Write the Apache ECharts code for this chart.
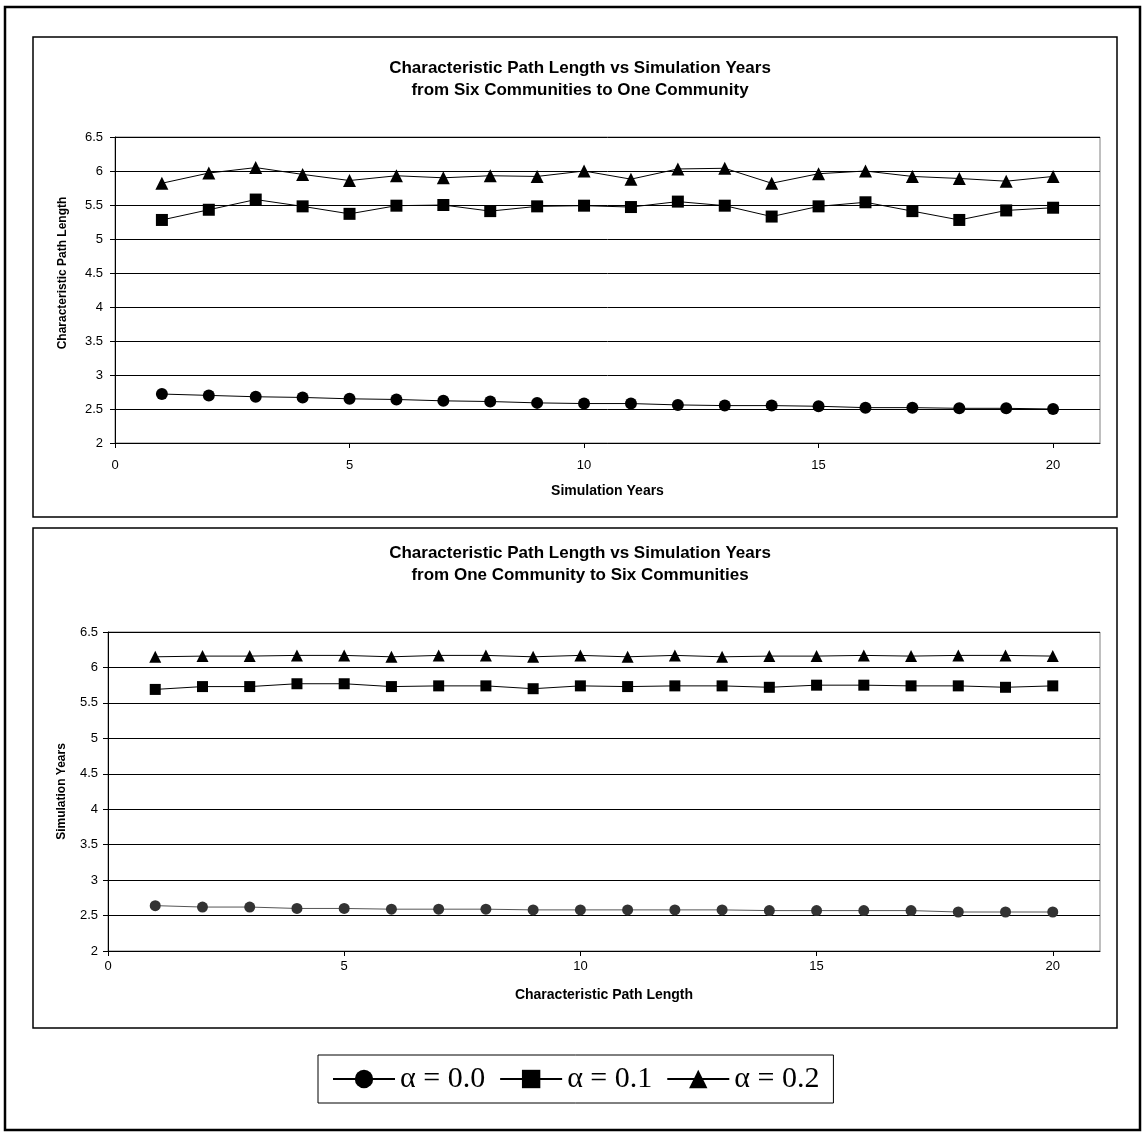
<!DOCTYPE html>
<html><head><meta charset="utf-8">
<script src="https://cdn.jsdelivr.net/npm/echarts@6/dist/echarts.min.js"></script>
<style>html,body{margin:0;padding:0;background:#fff}#c{width:1143px;height:1132px}</style>
</head><body><div id="c"></div>
<script>
const years = [1,2,3,4,5,6,7,8,9,10,11,12,13,14,15,16,17,18,19,20];
const seriesNames = ['α = 0.0', 'α = 0.1', 'α = 0.2'];
const xTicks = [0, 5, 10, 15, 20];
// Top chart: from six communities to one community
const topA0 = [2.72,2.70,2.68,2.67,2.65,2.64,2.62,2.61,2.59,2.58,2.58,2.56,2.55,2.55,2.54,2.52,2.52,2.51,2.51,2.50];
const topA1 = [5.28,5.43,5.58,5.48,5.37,5.49,5.50,5.41,5.48,5.49,5.47,5.55,5.49,5.33,5.48,5.54,5.41,5.28,5.42,5.46];
const topA2 = [5.82,5.97,6.05,5.95,5.86,5.93,5.90,5.93,5.92,6.00,5.88,6.03,6.04,5.82,5.96,6.00,5.92,5.89,5.85,5.92];
// Bottom chart: from one community to six communities
const botA0 = [2.64,2.62,2.62,2.60,2.60,2.59,2.59,2.59,2.58,2.58,2.58,2.58,2.58,2.57,2.57,2.57,2.57,2.55,2.55,2.55];
const botA1 = [5.69,5.73,5.73,5.77,5.77,5.73,5.74,5.74,5.70,5.74,5.73,5.74,5.74,5.72,5.75,5.75,5.74,5.74,5.72,5.74];
const botA2 = [6.15,6.16,6.16,6.17,6.17,6.15,6.17,6.17,6.15,6.17,6.15,6.17,6.15,6.16,6.16,6.17,6.16,6.17,6.17,6.16];

const FONT = 'Liberation Sans, Arial, sans-serif';
const pairs = arr => years.map((x, i) => [x, arr[i]]);

function xAxis(idx, name, gap, labelMargin) {
  return {
    type: 'value', gridIndex: idx, min: 0, max: 21, interval: 5,
    name: name, nameLocation: 'middle', nameGap: gap,
    nameTextStyle: {fontFamily: FONT, fontWeight: 'bold', fontSize: 14, color: '#000'},
    axisLine: {show: true, lineStyle: {color: '#000', width: 1}},
    axisTick: {show: true, length: 5, lineStyle: {color: '#000'}, customValues: xTicks},
    axisLabel: {fontFamily: FONT, fontSize: 13, color: '#000', margin: labelMargin, customValues: xTicks},
    splitLine: {show: false}
  };
}
function yAxis(idx, name, gap, labelMargin, pad) {
  return {
    type: 'value', gridIndex: idx, min: 2, max: 6.5, interval: 0.5,
    name: name, nameLocation: 'middle', nameGap: gap,
    nameTextStyle: {fontFamily: FONT, fontWeight: 'bold', fontSize: 12, color: '#000', padding: pad},
    axisLine: {show: true, lineStyle: {color: '#000', width: 1}},
    axisTick: {show: true, length: 5, lineStyle: {color: '#000'}},
    axisLabel: {fontFamily: FONT, fontSize: 13, color: '#000', margin: labelMargin},
    splitLine: {show: true, lineStyle: {color: '#000', width: 1}}
  };
}
function line(idx, name, arr, symbol, size, color, lineColor) {
  return {
    type: 'line', name: name, xAxisIndex: idx, yAxisIndex: idx,
    data: pairs(arr), symbol: symbol, symbolSize: size, showSymbol: true,
    itemStyle: {color: color, opacity: 1},
    lineStyle: {color: lineColor, width: 1},
    animation: false, silent: true, z: 3
  };
}

const chart = echarts.init(document.getElementById('c'), null, {renderer: 'canvas'});
chart.setOption({
  backgroundColor: '#fff',
  animation: false,
  title: [
    {text: 'Characteristic Path Length vs Simulation Years\nfrom Six Communities to One Community',
     left: 575, top: 52, textAlign: 'center',
     textStyle: {fontFamily: FONT, fontWeight: 'bold', fontSize: 17, lineHeight: 22, color: '#000'}},
    {text: 'Characteristic Path Length vs Simulation Years\nfrom One Community to Six Communities',
     left: 575, top: 537, textAlign: 'center',
     textStyle: {fontFamily: FONT, fontWeight: 'bold', fontSize: 17, lineHeight: 22, color: '#000'}}
  ],
  legend: {
    data: seriesNames, left: 318, top: 1055, orient: 'horizontal',
    padding: [9, 14, 9, 14], itemGap: 14, itemWidth: 62, itemHeight: 23,
    borderColor: '#000', borderWidth: 1, backgroundColor: '#fff',
    textStyle: {fontFamily: 'Liberation Serif, Times New Roman, serif', fontSize: 30, color: '#000'},
    selectedMode: false
  },
  grid: [
    {left: 115, top: 137, width: 985, height: 306, show: true, borderColor: '#808080', borderWidth: 1, backgroundColor: '#fff'},
    {left: 108, top: 632, width: 992, height: 319, show: true, borderColor: '#808080', borderWidth: 1, backgroundColor: '#fff'}
  ],
  xAxis: [xAxis(0, 'Simulation Years', 41, 16), xAxis(1, 'Characteristic Path Length', 37, 9)],
  yAxis: [yAxis(0, 'Characteristic Path Length', 46, 12, [0, 0, 0, 34]), yAxis(1, 'Simulation Years', 40, 10, [0, 0, 0, 0])],
  series: [
    line(0, seriesNames[0], topA0, 'circle', 12, '#000', '#000'),
    line(0, seriesNames[1], topA1, 'rect', 12, '#000', '#000'),
    line(0, seriesNames[2], topA2, 'triangle', 13, '#000', '#000'),
    line(1, seriesNames[0], botA0, 'circle', 11, '#333', '#555'),
    line(1, seriesNames[1], botA1, 'rect', 11, '#000', '#000'),
    line(1, seriesNames[2], botA2, 'triangle', 12, '#000', '#000')
  ],
  graphic: [
    {type: 'rect', shape: {x: 5, y: 7, width: 1135, height: 1123}, style: {fill: 'none', stroke: '#000', lineWidth: 2.5}, silent: true, z: -10},
    {type: 'rect', shape: {x: 33, y: 37, width: 1084, height: 480}, style: {fill: 'none', stroke: '#000', lineWidth: 1.5}, silent: true, z: -10},
    {type: 'rect', shape: {x: 33, y: 528, width: 1084, height: 500}, style: {fill: 'none', stroke: '#000', lineWidth: 1.5}, silent: true, z: -10}
  ]
});
</script>
</body></html>
